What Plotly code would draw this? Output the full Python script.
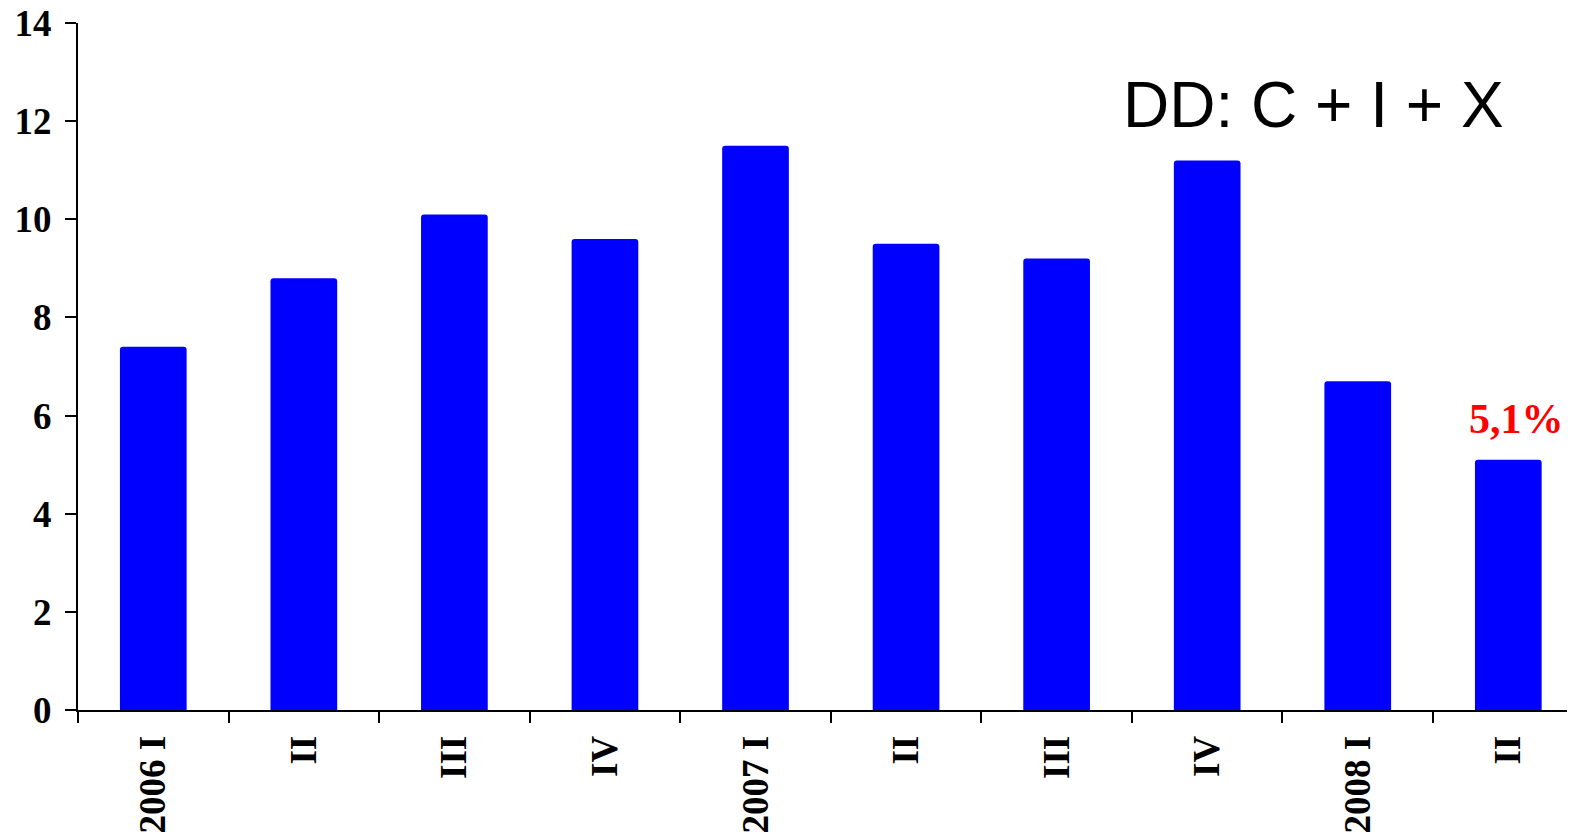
import plotly.graph_objects as go

categories = ["2006 I", "II ", "III ", "IV ", "2007 I", "II  ", "III  ", "IV  ", "2008 I", "II   "]
tick_labels = ["2006 I", "II", "III", "IV", "2007 I", "II", "III", "IV", "2008 I", "II"]
values = [7.4, 8.8, 10.1, 9.6, 11.5, 9.5, 9.2, 11.2, 6.7, 5.1]
y_ticks = [0, 2, 4, 6, 8, 10, 12, 14]
title_text = "DD: C + I + X"

serif = "Liberation Serif, Times New Roman, serif"

fig = go.Figure()
fig.add_trace(go.Bar(
    x=categories,
    y=values,
    width=0.443,
    marker=dict(color="#0000FF", line=dict(width=0), cornerradius=3),
    hoverinfo="x+y",
))

last_label = f"{values[-1]:.1f}".replace(".", ",") + "%"
fig.add_annotation(
    x=categories[-1], y=values[-1], xref="x", yref="y",
    text=f"<b>{last_label}</b>", showarrow=False,
    xanchor="center", yanchor="bottom", xshift=8, yshift=16,
    font=dict(family=serif, size=42, color="#FF0000"),
)
fig.add_annotation(
    x=0.825, y=0.881, xref="paper", yref="paper",
    text=title_text, showarrow=False,
    xanchor="center", yanchor="middle",
    font=dict(family="Liberation Sans, Arial, sans-serif", size=64, color="black"),
)

fig.update_layout(
    width=1567, height=830,
    margin=dict(l=70, r=0, t=15, b=128, autoexpand=False),
    plot_bgcolor="white", paper_bgcolor="white",
    showlegend=False,
)
fig.update_xaxes(
    type="category",
    range=[-0.5, 9.443],
    tickmode="array", tickvals=categories, ticktext=[f"<b>{t}</b>" for t in tick_labels],
    tickangle=-90,
    ticks="outside", tickson="boundaries", ticklen=11, tickwidth=2, tickcolor="black",
    showline=True, linecolor="black", linewidth=2,
    showgrid=False, zeroline=False,
    tickfont=dict(family=serif, size=37, color="black"),
    ticklabelstandoff=9,
    ticklabeloverflow="allow",
)
fig.update_yaxes(
    range=[0, 14],
    tickmode="array", tickvals=y_ticks, ticktext=[f"<b>{v}</b>" for v in y_ticks],
    ticks="outside", ticklen=11, tickwidth=2, tickcolor="black",
    showline=True, linecolor="black", linewidth=2,
    showgrid=False, zeroline=False,
    tickfont=dict(family=serif, size=37, color="black"),
    ticklabelstandoff=6,
    ticklabeloverflow="allow",
)

fig.write_html("out.html")
